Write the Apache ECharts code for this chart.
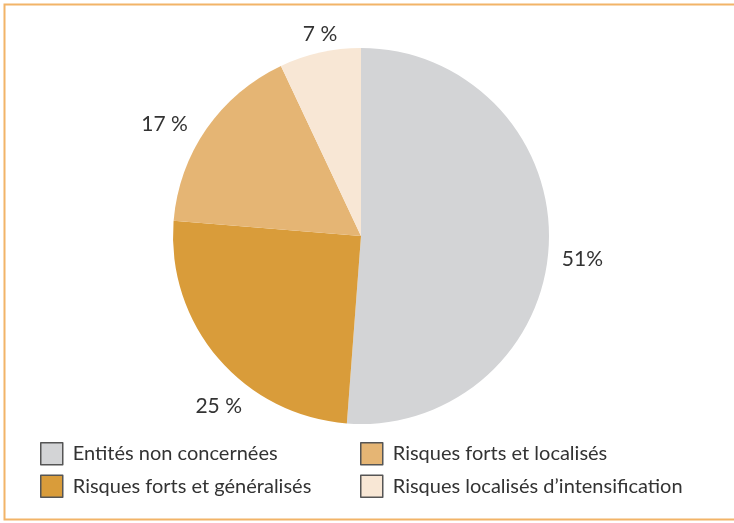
<!DOCTYPE html>
<html>
<head>
<meta charset="utf-8">
<script src="https://cdn.jsdelivr.net/npm/echarts@6/dist/echarts.min.js"></script>
<style>
  html, body { margin: 0; padding: 0; background: #fff; }
  #chart { width: 734px; height: 523px; }
</style>
</head>
<body>
<div id="chart"></div>
<script>
// données
const categories = [
    'Entités non concernées',
    'Risques forts et généralisés',
    'Risques forts et localisés',
    'Risques localisés d\u2019intensification'
];
const values = [51.2, 25.1, 16.7, 7];
const labels = ['51%', '25 %', '17 %', '7 %'];
const colors = ['#d3d4d6', '#d99c3a', '#e5b574', '#f8e7d5'];
// petits décalages des étiquettes, comme sur l'original
const labelShift = [[0, 16], [35, 43], [-7, 0], [24, -10]];

const chartDom = document.getElementById('chart');
const myChart = echarts.init(chartDom);

const pieData = categories.map((name, i) => {
    return { name: name, value: values[i], itemStyle: { color: colors[i] } }
});

const legendText = {
    color: '#333',
    fontFamily: 'Lato',
    fontSize: 20,
    padding: [0, 0, 0, 5]
};

const option = {
    animation: false,
    graphic: [
        {
            type: 'rect',
            shape: { x: 4.5, y: 4.5, width: 740, height: 515 },
            style: { fill: 'none', stroke: '#f2b468', lineWidth: 2 }
        }
    ],
    legend: [
        {
            orient: 'vertical',
            left: 40,
            top: 442,
            padding: 0,
            itemWidth: 22,
            itemHeight: 22,
            itemGap: 9,
            icon: 'rect',
            selectedMode: false,
            data: [categories[0], categories[1]],
            itemStyle: { borderColor: '#555', borderWidth: 1.5 },
            textStyle: legendText
        },
        {
            orient: 'vertical',
            left: 360,
            top: 442,
            padding: 0,
            itemWidth: 22,
            itemHeight: 22,
            itemGap: 9,
            icon: 'rect',
            selectedMode: false,
            data: [categories[2], categories[3]],
            itemStyle: { borderColor: '#555', borderWidth: 1.5 },
            textStyle: legendText
        }
    ],
    series: [
        {
            type: 'pie',
            center: [361, 236],
            radius: 188,
            startAngle: 90,
            clockwise: true,
            data: pieData,
            label: {
                show: true,
                position: 'outside',
                formatter: p => labels[p.dataIndex],
                color: '#333',
                fontFamily: 'Lato',
                fontSize: 21
            },
            labelLine: { show: false, length: 8, length2: 0 },
            labelLayout: p => {
                return { dx: labelShift[p.dataIndex][0], dy: labelShift[p.dataIndex][1] }
            },
            emphasis: { disabled: true }
        }
    ]
};
option && myChart.setOption(option);
</script>
</body>
</html>
